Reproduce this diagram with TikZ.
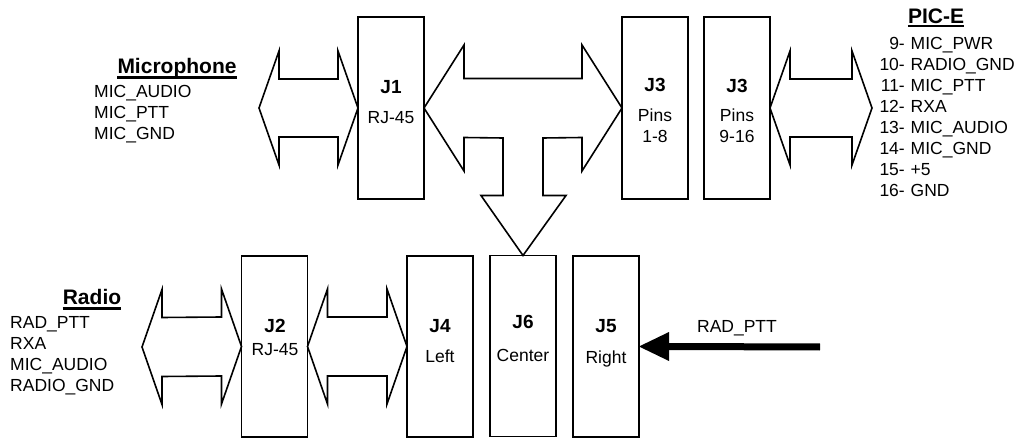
\documentclass[tikz,border=0pt]{standalone}
\usepackage{fontspec}
\setmainfont{Liberation Sans}
\usetikzlibrary{calc}
\tikzset{
  box/.style={draw, line width=1.6pt, minimum width=66pt, minimum height=182pt, inner sep=0pt, outer sep=0pt},
  barrow/.style={draw, line width=1.6pt, line join=miter, fill=white},
  jlbl/.style={anchor=base, inner sep=0pt, font=\fontsize{19}{22}\selectfont\bfseries},
  slbl/.style={anchor=base, inner sep=0pt, font=\fontsize{17.5}{21}\selectfont},
  lst/.style={anchor=base west, inner sep=0pt, font=\fontsize{17.5}{21}\selectfont},
  ttl/.style={anchor=base, inner sep=0pt, font=\fontsize{21}{24}\selectfont\bfseries},
  uline/.style={line width=2.2pt},
}
\newcommand\dblarrow[5]{%
  \draw[barrow] (#1) -- ($(#1)+(#3,#4)$) -- ($(#1)+(#3,#5)$) -- ($(#2)+(-#3,#5)$)
    -- ($(#2)+(-#3,#4)$) -- (#2) -- ($(#2)+(-#3,-#4)$) -- ($(#2)+(-#3,-#5)$)
    -- ($(#1)+(#3,-#5)$) -- ($(#1)+(#3,-#4)$) -- cycle;}
\begin{document}
\begin{tikzpicture}[x=1pt,y=-1pt]
\useasboundingbox (0,0) rectangle (1020,438);
% boxes
\node[box] (J1) at (391,108) {};
\node[box] (J3a) at (655,108) {};
\node[box] (J3b) at (737,108) {};
\node[box, minimum height=181pt] (J2) at (274.5,346.5) {};
\node[box, minimum height=181pt] (J4) at (440,346.5) {};
\node[box, minimum height=181pt] (J6) at (523,346) {};
\node[box, minimum height=181pt] (J5) at (606,346.5) {};
% box labels
\node[jlbl] (J1t) at (391,93.5) {J1};
\node[slbl] (J1s) at (391,124) {RJ-45};
\node[jlbl] (J3at) at (655,92) {J3};
\node[slbl] (J3as) at (655,121.5) {Pins};
\node[slbl] (J3an) at (655,143) {1-8};
\node[jlbl] (J3bt) at (737,93) {J3};
\node[slbl] (J3bs) at (737,121.5) {Pins};
\node[slbl] (J3bn) at (737,143) {9-16};
\node[jlbl] (J2t) at (275,332) {J2};
\node[slbl] (J2s) at (275,355) {RJ-45};
\node[jlbl] (J4t) at (440,332) {J4};
\node[slbl] (J4s) at (440,362) {Left};
\node[jlbl] (J6t) at (523,329) {J6};
\node[slbl] (J6s) at (523,361) {Center};
\node[jlbl] (J5t) at (606,332) {J5};
\node[slbl] (J5s) at (606,363) {Right};
% free ends
\coordinate (micL) at (259,108);
\coordinate (picR) at (872,108);
\coordinate (radL) at (142,347);
\coordinate (pttS) at (820,347);
% block arrows
\dblarrow{micL}{J1.west}{20}{57}{29}
\dblarrow{J3b.east}{picR}{20}{57}{29}
\dblarrow{radL}{J2.west}{20}{57.5}{29.5}
\dblarrow{J2.east}{J4.west}{20}{57.5}{29.5}
% T arrow J1 - J3 with branch down to J6
\draw[barrow] (J1.east) -- ($(J1.east)+(40,-63)$) -- ($(J1.east)+(40,-29.5)$)
  -- ($(J3a.west)+(-40,-29.5)$) -- ($(J3a.west)+(-40,-63)$) -- (J3a.west)
  -- ($(J3a.west)+(-40,63)$) -- ($(J3a.west)+(-40,29.5)$)
  -- ($(J6.north)+(20,-117.5)$) -- ($(J6.north)+(20,-60)$)
  -- ($(J6.north)+(43,-60)$) -- (J6.north) -- ($(J6.north)+(-42,-60)$)
  -- ($(J6.north)+(-20,-60)$) -- ($(J6.north)+(-20,-117.5)$)
  -- ($(J1.east)+(40,29.5)$) -- ($(J1.east)+(40,63)$) -- cycle;
% RAD_PTT arrow
\draw[line width=7pt] (pttS) -- ($(J5.east)+(29,0)$);
\fill (J5.east) -- ++(30,14.5) -- ++(0,-29) -- cycle;
\node[slbl] (pttL) at (737,332.7) {RAD\_PTT};
% Microphone
\node[ttl] (micT) at (177,74) {Microphone};
\draw[uline] ($(micT.base west)+(0,3.5)$) -- ($(micT.base east)+(0,3.5)$);
\foreach \t [count=\i] in {MIC\_AUDIO,MIC\_PTT,MIC\_GND}
  \node[lst] (mic\i) at (94,{97.3+21*(\i-1)}) {\t};
% Radio
\node[ttl] (radT) at (92,305) {Radio};
\draw[uline] ($(radT.base west)+(0,3.5)$) -- ($(radT.base east)+(0,3.5)$);
\foreach \t [count=\i] in {RAD\_PTT,RXA,MIC\_AUDIO,RADIO\_GND}
  \node[lst] (rad\i) at (10,{328.5+21*(\i-1)}) {\t};
% PIC-E
\node[ttl] (picT) at (936,23.3) {PIC-E};
\draw[uline] ($(picT.base west)+(0,2.5)$) -- ($(picT.base east)+(0,2.5)$);
\foreach \n/\t [count=\i] in {9-/MIC\_PWR,10-/RADIO\_GND,11-/MIC\_PTT,12-/RXA,13-/MIC\_AUDIO,14-/MIC\_GND,15-/+5,16-/GND}{
  \node[slbl, anchor=base east] (picn\i) at (905,{49.5+21*(\i-1)}) {\n};
  \node[lst] (pict\i) at (910.5,{49.5+21*(\i-1)}) {\t};
}
\end{tikzpicture}
\end{document}
